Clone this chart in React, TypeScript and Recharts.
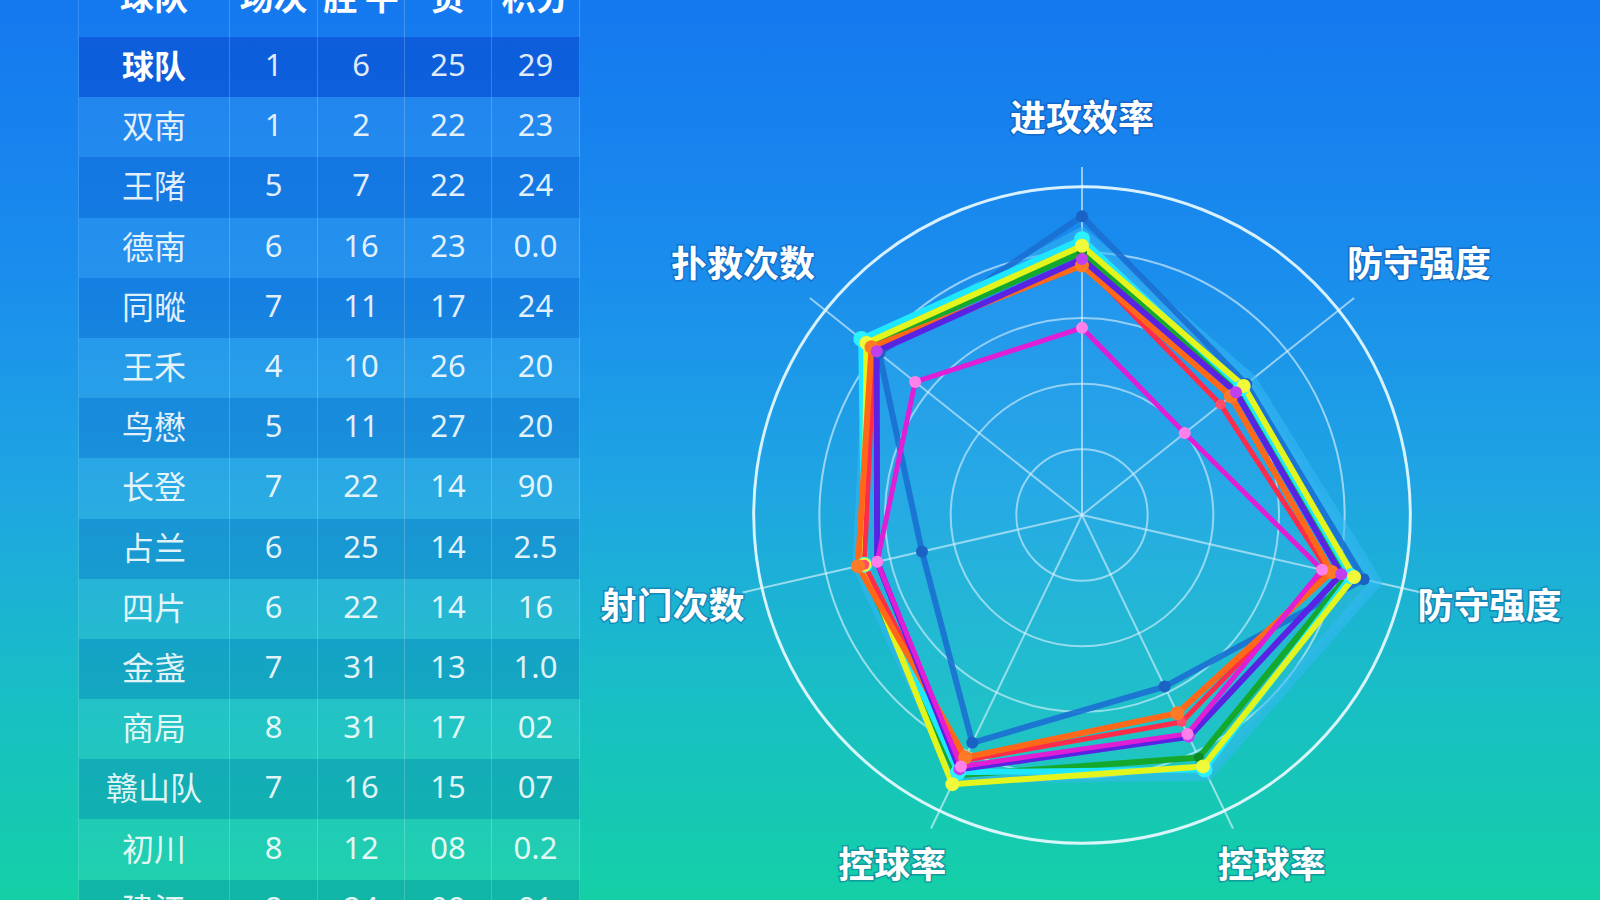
import { RadarChart, Radar, PolarGrid, PolarAngleAxis, PolarRadiusAxis } from "recharts";

// radar axes, clockwise from the top
const axes = ["进攻效率", "防守强度", "防守强度", "控球率", "控球率", "射门次数", "扑救次数"];

const skyBlue = [86, 66, 92, 88, 89, 70, 83];
const steelBlue = [91, 64, 88, 58, 77, 50, 79];
const green = [80, 61, 83, 82, 88, 69, 83];
const cyan = [84, 62, 84, 86, 87, 68, 86];
const yellow = [82, 63, 85, 85, 91, 68, 84];
const red = [77, 54, 77, 70, 83, 68, 81];
const orange = [76, 58, 78, 67, 82, 70, 82];
const purple = [78, 60, 81, 75, 86, 64, 80];
const magenta = [57, 40, 75, 74, 85, 64, 65];

// standings table
const headers = ["球队", "场次", "胜 平", "负", "积分"];
const teams = ["球队", "双南", "王陼", "德南", "同暰", "王禾", "鸟懋", "长登", "占兰", "四片", "金盏", "商局", "赣山队", "初川", "建江"];
const played = ["1", "1", "5", "6", "7", "4", "5", "7", "6", "6", "7", "8", "7", "8", "8"];
const wins = ["6", "2", "7", "16", "11", "10", "11", "22", "25", "22", "31", "31", "16", "12", "24"];
const losses = ["25", "22", "22", "23", "17", "26", "27", "14", "14", "14", "13", "17", "15", "08", "09"];
const points = ["29", "23", "24", "0.0", "24", "20", "20", "90", "2.5", "16", "1.0", "02", "07", "0.2", "01"];

const series = [
  { key: "skyBlue", values: skyBlue, color: "#35b8f4", width: 11, opacity: 0.55, fill: 0.1, dot: null },
  { key: "steelBlue", values: steelBlue, color: "#1b6fd2", width: 6, opacity: 0.9, fill: 0, dot: { r: 6, fill: "#1a62c4" } },
  { key: "green", values: green, color: "#14a92c", width: 6, opacity: 1, fill: 0, dot: { r: 5, fill: "#0d8a22" } },
  { key: "cyan", values: cyan, color: "#1ee8ff", width: 6, opacity: 1, fill: 0, dot: { r: 8, fill: "#2af2ff" } },
  { key: "yellow", values: yellow, color: "#e4f51e", width: 6, opacity: 1, fill: 0, dot: { r: 7, fill: "#f0fa3a" } },
  { key: "red", values: red, color: "#ff2b4a", width: 5, opacity: 1, fill: 0, dot: { r: 5, fill: "#ff4d6a" } },
  { key: "orange", values: orange, color: "#ff6818", width: 6, opacity: 1, fill: 0, dot: { r: 7, fill: "#ff7a26" } },
  { key: "purple", values: purple, color: "#5a22e2", width: 6, opacity: 1, fill: 0, dot: { r: 6, fill: "#c040f0" } },
  { key: "magenta", values: magenta, color: "#e01ed6", width: 5, opacity: 1, fill: 0, dot: { r: 6, fill: "#ff80ea" } },
];

const data = axes.map((label, i) => {
  const row: Record<string, string | number> = { key: `a${i}`, label };
  series.forEach((s) => (row[s.key] = s.values[i]));
  return row;
});

const CX = 500;
const CY = 515;
const OUTER = 348;
const DOMAIN_MAX = 106;
const R100 = (OUTER * 100) / DOMAIN_MAX;
const LABEL_R = [400, 426, 418, 396, 396, 420, 426];
const LABEL_SHIFT = [
  [0, 0],
  [4, 12],
  [0, -5],
  [18, -10],
  [-18, -10],
  [0, -5],
  [-6, 12],
];

function AxisLabel(props: any) {
  const { x, y, payload } = props;
  const idx = Number(String(payload.value).slice(1));
  const dx = x - CX;
  const dy = y - CY;
  const len = Math.sqrt(dx * dx + dy * dy) || 1;
  const r = LABEL_R[idx];
  return (
    <text
      x={CX + (dx / len) * r + LABEL_SHIFT[idx][0]}
      y={CY + (dy / len) * r + LABEL_SHIFT[idx][1]}
      textAnchor="middle"
      dominantBaseline="central"
      fill="#ffffff"
      fontSize={36}
      fontWeight={700}
      fontFamily="'Noto Sans CJK SC', sans-serif"
      style={{ paintOrder: "stroke" }}
      stroke="rgba(10,60,140,0.35)"
      strokeWidth={3}
    >
      {axes[idx]}
    </text>
  );
}

const ROW_H = 60.2;
const TABLE_TOP = 37;
const colWidths = [151, 88, 87, 87, 88];
const rowFill = (i: number) => {
  if (i === 0) return "rgba(0,45,190,0.38)";
  return i % 2 === 1 ? "rgba(255,255,255,0.05)" : "rgba(0,50,170,0.16)";
};

function StandingsTable() {
  const cellBase: React.CSSProperties = {
    display: "flex",
    alignItems: "center",
    justifyContent: "center",
    boxSizing: "border-box",
    borderRight: "1px solid rgba(255,255,255,0.2)",
    color: "rgba(255,255,255,0.9)",
    paddingBottom: 6,
  };
  return (
    <div style={{ position: "absolute", left: 78, top: TABLE_TOP - ROW_H, width: 501, borderLeft: "1px solid rgba(255,255,255,0.15)" }}>
      <div style={{ display: "flex", height: ROW_H }}>
        {headers.map((h, c) => (
          <div
            key={h}
            style={{
              ...cellBase,
              width: colWidths[c],
              fontFamily: "'Noto Sans CJK SC', sans-serif",
              fontWeight: 700,
              fontSize: 34,
              color: "#ffffff",
              paddingBottom: 22,
              lineHeight: "38px",
            }}
          >
            {h}
          </div>
        ))}
      </div>
      {teams.map((t, i) => {
        const cells = [t, played[i], wins[i], losses[i], points[i]];
        return (
          <div key={t} style={{ display: "flex", height: ROW_H, background: rowFill(i) }}>
            {cells.map((v, c) => (
              <div
                key={c}
                style={{
                  ...cellBase,
                  width: colWidths[c],
                  fontFamily: c === 0 ? "'Noto Sans CJK SC', sans-serif" : "'Noto Sans', sans-serif",
                  fontWeight: c === 0 && i === 0 ? 700 : 400,
                  fontSize: c === 0 ? 32 : 31,
                  color: c === 0 && i === 0 ? "#ffffff" : "rgba(255,255,255,0.88)",
                }}
              >
                {v}
              </div>
            ))}
          </div>
        );
      })}
    </div>
  );
}

export default function App() {
  return (
    <div
      style={{
        position: "absolute",
        left: 0,
        top: 0,
        width: 1600,
        height: 900,
        overflow: "hidden",
        background: "linear-gradient(180deg, #1478ef 0%, #1a8ded 30%, #1fa6e2 55%, #18bfc4 78%, #14d0a6 100%)",
      }}
    >
      <StandingsTable />
      <div style={{ position: "absolute", left: 582, top: 0 }}>
        <RadarChart width={1000} height={900} data={data} cx={CX} cy={CY} outerRadius={OUTER}>
          <PolarGrid gridType="circle" stroke="rgba(235,248,255,0.6)" strokeWidth={2} />
          <PolarGrid gridType="circle" radialLines={false} polarRadius={[R100]} stroke="rgba(230,248,255,0.85)" strokeWidth={3} />
          <PolarRadiusAxis domain={[0, DOMAIN_MAX]} ticks={[0, 20, 40, 60, 80, 100]} tick={false} axisLine={false} />
          <PolarAngleAxis dataKey="key" tick={<AxisLabel />} tickLine={false} axisLine={false} />
          {series.map((s) => (
            <Radar
              key={s.key}
              dataKey={s.key}
              stroke={s.color}
              strokeWidth={s.width}
              strokeOpacity={s.opacity}
              strokeLinejoin="round"
              fill={s.fill ? "#6fd0ff" : "none"}
              fillOpacity={s.fill}
              dot={s.dot ? { ...s.dot, stroke: "none", fillOpacity: 1 } : false}
              isAnimationActive={false}
            />
          ))}
        </RadarChart>
      </div>
    </div>
  );
}
